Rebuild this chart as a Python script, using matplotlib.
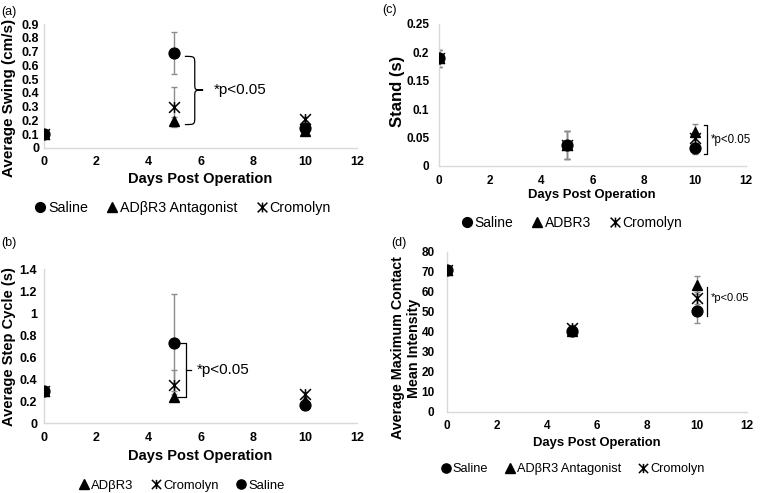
import matplotlib
matplotlib.use("Agg")
import matplotlib.pyplot as plt
from matplotlib.path import Path
from matplotlib.patches import PathPatch
import numpy as np

plt.rcParams['font.family'] = ['Liberation Sans', 'DejaVu Sans']

days = [0, 5, 10]

# (a) Average Swing (cm/s)
saline_a = [0.10, 0.69, 0.148]
saline_a_err = [0.015, 0.15, 0.015]
adb_a = [0.10, 0.195, 0.125]
adb_a_err = [0.015, 0.03, 0.015]
crom_a = [0.10, 0.30, 0.21]
crom_a_err = [0.015, 0.145, 0.015]

# (b) Average Step Cycle (s)
saline_b = [0.29, 0.73, 0.165]
saline_b_err = [0.03, 0.44, 0.02]
adb_b = [0.29, 0.235, 0.20]
adb_b_err = [0.03, 0.03, 0.02]
crom_b = [0.29, 0.345, 0.26]
crom_b_err = [0.03, 0.14, 0.02]

# (c) Stand (s)
saline_c = [0.19, 0.037, 0.031]
saline_c_err = [0.015, 0.024, 0.009]
adb_c = [0.19, 0.037, 0.060]
adb_c_err = [0.015, 0.024, 0.014]
crom_c = [0.19, 0.037, 0.050]
crom_c_err = [0.015, 0.024, 0.010]

# (d) Average Maximum Contact Mean Intensity
saline_d = [71, 40.5, 50.3]
saline_d_err = [1.5, 1.5, 5.6]
adb_d = [71, 40.5, 63.5]
adb_d_err = [1.5, 1.5, 4.5]
crom_d = [71, 42, 57]
crom_d_err = [1.5, 1.5, 3.0]

W, H = 761, 493
fig = plt.figure(figsize=(W / 100, H / 100), dpi=100)


def px_axes(l, r, t, b):
    return fig.add_axes([l / W, 1 - b / H, (r - l) / W, (b - t) / H])


star = Path([(-1, -1), (1, 1), (-1, 1), (1, -1), (0, -1), (0, 1)],
            [Path.MOVETO, Path.LINETO, Path.MOVETO, Path.LINETO, Path.MOVETO, Path.LINETO])

ERR = '#8c8c8c'


def series(ax, y, err, kind, ms=7.8):
    ax.errorbar(days, y, yerr=err, fmt='none', ecolor=ERR, elinewidth=1.0,
                capsize=2, capthick=1.0, zorder=2)
    if kind == 'saline':
        h, = ax.plot(days, y, 'o', color='black', ms=ms, ls='none', zorder=3)
    elif kind == 'adb':
        h, = ax.plot(days, y, '^', color='black', ms=ms, ls='none', zorder=3)
    else:
        h, = ax.plot(days, y, marker=star, color='black', mfc='none', mew=1.1,
                     ms=ms, ls='none', zorder=4)
    return h


def style(ax, ylim, yticks, ylabels, tick_fs, xpad, ypad):
    ax.set_xlim(0, 12)
    ax.set_ylim(*ylim)
    ax.set_xticks(range(0, 13, 2))
    ax.set_yticks(yticks)
    ax.set_yticklabels(ylabels)
    for s in ['top', 'right']:
        ax.spines[s].set_visible(False)
    for s in ['left', 'bottom']:
        ax.spines[s].set_color('#d9d9d9')
        ax.spines[s].set_linewidth(1.0)
    ax.tick_params(length=0, labelsize=tick_fs)
    ax.tick_params(axis='x', pad=xpad)
    ax.tick_params(axis='y', pad=ypad)
    for lab in ax.get_xticklabels() + ax.get_yticklabels():
        lab.set_fontweight('bold')
    ax.patch.set_alpha(0)


def ftext(x, y, s, **kw):
    fig.text(x / W, 1 - y / H, s, **kw)


def fmt(v):
    return ('%g' % v)

# ---------------- (a)
axa = px_axes(44, 357, 24, 148)
ha_s = series(axa, saline_a, saline_a_err, 'saline')
ha_a = series(axa, adb_a, adb_a_err, 'adb')
ha_c = series(axa, crom_a, crom_a_err, 'crom')
yt = np.round(np.arange(0, 0.91, 0.1), 2)
style(axa, (0, 0.9), yt, [fmt(v) for v in yt], 9, 6, 3.5)
# curly brace
x0, x1, x2 = 5.4, 5.78, 6.1
y0, y1, ym = 0.17, 0.665, 0.42
bv = [(x0, y1), (x1, y1), (x1, y1), (x1, y1 - 0.06), (x1, ym + 0.05),
      (x1, ym), (x1, ym), (x2, ym),
      (x1, ym), (x1, ym), (x1, ym - 0.05), (x1, y0 + 0.06),
      (x1, y0), (x1, y0), (x0, y0)]
bc = [Path.MOVETO, Path.CURVE4, Path.CURVE4, Path.CURVE4, Path.LINETO,
      Path.CURVE4, Path.CURVE4, Path.CURVE4,
      Path.CURVE4, Path.CURVE4, Path.CURVE4, Path.LINETO,
      Path.CURVE4, Path.CURVE4, Path.CURVE4]
axa.add_patch(PathPatch(Path(bv, bc), fc='none', ec='black', lw=0.9, clip_on=False))
axa.text(6.5, 0.42, '*p<0.05', fontsize=11, va='center', ha='left')
ftext(9, 98, 'Average Swing (cm/s)', rotation=90, fontsize=11, fontweight='bold',
      ha='center', va='center')
ftext(200, 179, 'Days Post Operation', fontsize=10.5, fontweight='bold',
      ha='center', va='center')
fig.legend([ha_s, ha_a, ha_c], ['Saline', 'ADβR3 Antagonist', 'Cromolyn'],
           loc='center', bbox_to_anchor=(182 / W, 1 - 208 / H), ncol=3,
           frameon=False, fontsize=10.3, handletextpad=0.05, columnspacing=1.2,
           handlelength=1.0, markerscale=0.9)
ftext(1, 12, '(a)', fontsize=9, ha='left', va='center')

# ---------------- (b)
axb = px_axes(44, 357, 269, 423)
hb_s = series(axb, saline_b, saline_b_err, 'saline')
hb_a = series(axb, adb_b, adb_b_err, 'adb')
hb_c = series(axb, crom_b, crom_b_err, 'crom')
yt = np.round(np.arange(0, 1.41, 0.2), 2)
style(axb, (0, 1.4), yt, [fmt(v) for v in yt], 9, 6.5, 5)
bx, by0, by1 = 5.45, 0.235, 0.725
axb.plot([bx - 0.3, bx, bx, bx - 0.3], [by1, by1, by0, by0], color='black', lw=0.9,
         clip_on=False)
axb.plot([bx, bx + 0.2], [0.48, 0.48], color='black', lw=0.9, clip_on=False)
axb.text(5.85, 0.48, '*p<0.05', fontsize=11, va='center', ha='left')
ftext(9, 347, 'Average Step Cycle (s)', rotation=90, fontsize=10.5, fontweight='bold',
      ha='center', va='center')
ftext(200, 456, 'Days Post Operation', fontsize=10.5, fontweight='bold',
      ha='center', va='center')
fig.legend([hb_a, hb_c, hb_s], ['ADβR3', 'Cromolyn', 'Saline'],
           loc='center', bbox_to_anchor=(181 / W, 1 - 486 / H), ncol=3,
           frameon=False, fontsize=9.4, handletextpad=0.05, columnspacing=1.2,
           handlelength=1.0, markerscale=0.85)
ftext(1, 243, '(b)', fontsize=9, ha='left', va='center')

# ---------------- (c)
axc = px_axes(439, 746, 24, 166)
hc_s = series(axc, saline_c, saline_c_err, 'saline')
hc_a = series(axc, adb_c, adb_c_err, 'adb')
hc_c = series(axc, crom_c, crom_c_err, 'crom')
yt = np.round(np.arange(0, 0.251, 0.05), 2)
style(axc, (0, 0.25), yt, [fmt(v) for v in yt], 8.5, 6.5, 7)
cx = 10.47
axc.plot([cx - 0.1, cx, cx, cx - 0.1], [0.073, 0.073, 0.021, 0.021], color='black',
         lw=0.9, clip_on=False)
axc.text(10.62, 0.046, '*p<0.05', fontsize=8.3, va='center', ha='left')
ftext(397, 91, 'Stand (s)', rotation=90, fontsize=12, fontweight='bold',
      ha='center', va='center')
ftext(592, 195, 'Days Post Operation', fontsize=9.4, fontweight='bold',
      ha='center', va='center')
fig.legend([hc_s, hc_a, hc_c], ['Saline', 'ADBR3', 'Cromolyn'],
           loc='center', bbox_to_anchor=(571 / W, 1 - 223 / H), ncol=3,
           frameon=False, fontsize=10, handletextpad=0.05, columnspacing=1.2,
           handlelength=1.0, markerscale=0.9)
ftext(382, 10, '(c)', fontsize=9, ha='left', va='center')

# ---------------- (d)
axd = px_axes(447, 747, 252, 412)
hd_s = series(axd, saline_d, saline_d_err, 'saline')
hd_a = series(axd, adb_d, adb_d_err, 'adb')
hd_c = series(axd, crom_d, crom_d_err, 'crom')
yt = list(range(0, 81, 10))
style(axd, (0, 80), yt, [str(v) for v in yt], 8.5, 6, 9)
axd.plot([10.4, 10.4], [62.3, 48.2], color='black', lw=0.9, clip_on=False)
axd.text(10.55, 57, '*p<0.05', fontsize=8, va='center', ha='left')
ftext(406, 348, 'Average Maximum Contact\nMean Intensity', rotation=90, fontsize=10.3,
      fontweight='bold', ha='center', va='center', multialignment='center',
      linespacing=1.25)
ftext(597, 443, 'Days Post Operation', fontsize=9.4, fontweight='bold',
      ha='center', va='center')
fig.legend([hd_s, hd_a, hd_c], ['Saline', 'ADβR3 Antagonist', 'Cromolyn'],
           loc='center', bbox_to_anchor=(572 / W, 1 - 469 / H), ncol=3,
           frameon=False, fontsize=9.2, handletextpad=0.05, columnspacing=1.2,
           handlelength=1.0, markerscale=0.85)
ftext(391, 243, '(d)', fontsize=9, ha='left', va='center')

fig.savefig('out.png', dpi=100)
